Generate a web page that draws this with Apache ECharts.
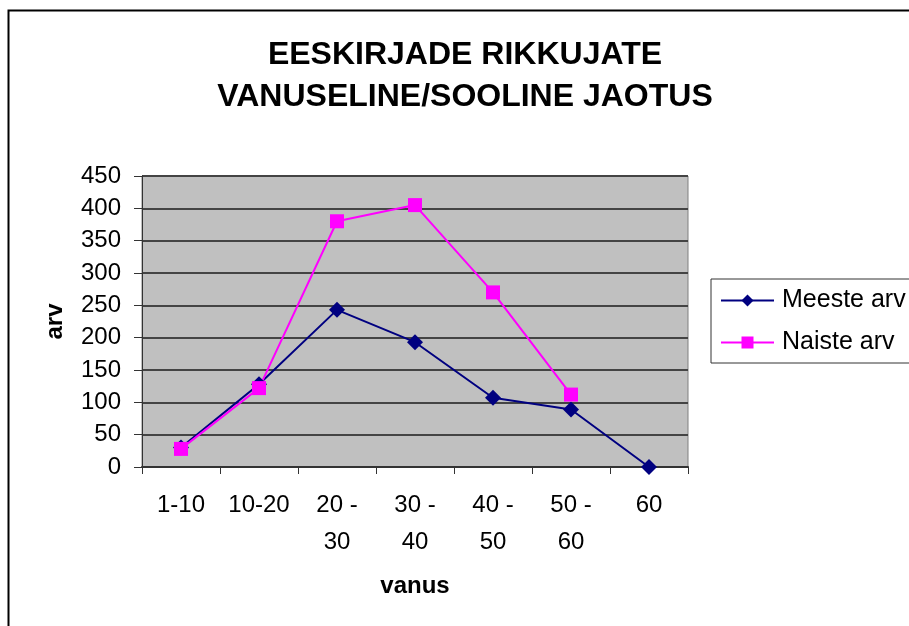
<!DOCTYPE html>
<html>
<head>
<meta charset="utf-8">
<script src="https://cdn.jsdelivr.net/npm/echarts@6/dist/echarts.min.js"></script>
<style>
  html, body { margin: 0; padding: 0; background: #fff; }
  #chart { width: 909px; height: 626px; }
</style>
</head>
<body>
<div id="chart"></div>
<script>
// 年齢区分
const ageGroups = ['1-10', '10-20', '20 -\n30', '30 -\n40', '40 -\n50', '50 -\n60', '60'];
// 男性・女性の人数
const meesteArv = [30, 128, 243, 193, 107, 89, 0];
const naisteArv = [28, 122, 380, 405, 270, 112, null];
const yTicks = { min: 0, max: 450, interval: 50 };

const chart = echarts.init(document.getElementById('chart'));

const font = 'Liberation Sans, Arial, sans-serif';

const option = {
    animation: false,
    backgroundColor: '#fff',
    title: {
        text: 'EESKIRJADE RIKKUJATE\nVANUSELINE/SOOLINE JAOTUS',
        left: 460,
        textAlign: 'center',
        top: 29,
        textStyle: {
            fontFamily: font,
            fontSize: 32,
            fontWeight: 'bold',
            color: '#000',
            lineHeight: 42
        }
    },
    // 外枠
    graphic: [
        {
            type: 'rect',
            shape: { x: 8.5, y: 10.5, width: 1000, height: 700 },
            style: { fill: null, stroke: '#000', lineWidth: 2 },
            silent: true
        }
    ],
    legend: {
        left: 711,
        top: 279,
        orient: 'vertical',
        padding: [9, 30, 8, 9],
        itemGap: 17,
        itemWidth: 53,
        itemHeight: 15,
        borderColor: '#333',
        borderWidth: 1,
        textStyle: { fontFamily: font, fontSize: 25, color: '#000', padding: [0, 0, 0, 3] },
        data: ['Meeste arv', 'Naiste arv']
    },
    grid: {
        left: 142,
        right: 221,
        top: 176,
        bottom: 159,
        show: true,
        backgroundColor: '#c0c0c0',
        borderColor: '#808080',
        borderWidth: 1
    },
    xAxis: {
        type: 'category',
        data: ageGroups,
        boundaryGap: true,
        name: 'vanus',
        nameLocation: 'middle',
        nameGap: 107,
        nameTextStyle: { fontFamily: font, fontSize: 24, fontWeight: 'bold', color: '#000' },
        axisLine: { lineStyle: { color: '#333', width: 2 } },
        axisTick: { show: true, length: 7, lineStyle: { color: '#333', width: 1 } },
        axisLabel: {
            fontFamily: font,
            fontSize: 24,
            color: '#000',
            margin: 20,
            lineHeight: 37,
            interval: 0,
            verticalAlign: 'top'
        },
        splitLine: { show: false }
    },
    yAxis: {
        type: 'value',
        min: yTicks.min,
        max: yTicks.max,
        interval: yTicks.interval,
        name: 'arv',
        nameLocation: 'middle',
        nameGap: 75,
        nameRotate: 90,
        nameTextStyle: { fontFamily: font, fontSize: 24, fontWeight: 'bold', color: '#000' },
        axisLine: { show: true, lineStyle: { color: '#333', width: 1 } },
        axisTick: { show: true, length: 8, lineStyle: { color: '#333' } },
        axisLabel: { fontFamily: font, fontSize: 24, color: '#000', margin: 21 },
        splitLine: { show: true, lineStyle: { color: '#444', width: 2 } }
    },
    series: [
        {
            name: 'Meeste arv',
            type: 'line',
            data: meesteArv,
            symbol: 'diamond',
            symbolSize: 16,
            color: '#000080',
            lineStyle: { width: 2, color: '#000080' },
            itemStyle: { color: '#000080' }
        },
        {
            name: 'Naiste arv',
            type: 'line',
            data: naisteArv,
            symbol: 'rect',
            symbolSize: 14,
            color: '#ff00ff',
            lineStyle: { width: 2, color: '#ff00ff' },
            itemStyle: { color: '#ff00ff' }
        }
    ]
};

chart.setOption(option);
</script>
</body>
</html>
